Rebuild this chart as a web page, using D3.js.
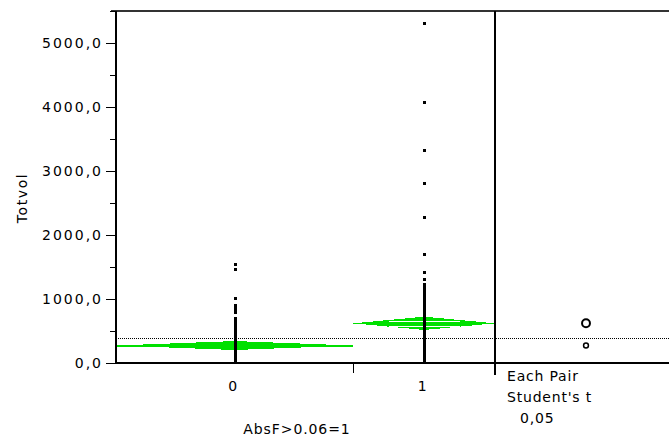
<!DOCTYPE html>
<html>
<head>
<meta charset="utf-8">
<script src="https://cdn.jsdelivr.net/npm/d3@7"></script>
<style>
  html, body { margin: 0; padding: 0; background: #ffffff; }
  svg { display: block; }
  text { font-family: "DejaVu Sans", Verdana, sans-serif; fill: #000; }
</style>
</head>
<body>
<svg id="chart" width="669" height="436"></svg>
<script>
// Totvol by group (AbsF>0.06=1): one-way analysis with means diamonds
const groups = ["0", "1"];
const groupN = [57, 34];                 // group sizes set the column widths
const groupMeans = [273, 620];
const groupCI = [70, 104];               // 95% half-width of each mean
const circleRadius = [38, 62];           // comparison circle radii (value units)
const grandMean = 386;

const values0 = [5, 25, 50, 75, 100, 130, 160, 190, 220, 250, 280, 310, 340, 370,
  400, 430, 460, 490, 520, 550, 580, 610, 640, 670, 700, 785, 820, 855, 895,
  1010, 1460, 1540];
const values1 = [5, 35, 65, 95, 125, 155, 185, 215, 245, 275, 305, 335, 365, 395,
  425, 455, 485, 515, 545, 575, 605, 635, 665, 695, 725, 755, 785, 815, 845,
  875, 905, 935, 965, 995, 1025, 1055, 1085, 1115, 1145, 1175, 1205, 1230,
  1300, 1410, 1700, 2280, 2800, 3320, 4070, 5310];
const groupValues = [values0, values1];

const yMajorTicks = [0, 1000, 2000, 3000, 4000, 5000];
const yMinorTicks = [500, 1500, 2500, 3500, 4500, 5500];
const yTitle = "Totvol";
const xTitle = "AbsF>0.06=1";
const compareLabels = ["Each Pair", "Student's t", "0,05"];

const svg = d3.select("#chart");
const W = 669;
const plot = { left: 116, right: 495, top: 11, bottom: 363 };
const green = "#00e000";

const y = d3.scaleLinear().domain([0, 5500]).range([plot.bottom, plot.top]);

// column edges proportional to group size
const total = d3.sum(groupN);
const xw = d3.scaleLinear().domain([0, total]).range([plot.left, plot.right]);
const cum = [0, ...d3.cumsum(groupN)];
const cols = groups.map((g, i) => ({
  g, i, x0: xw(cum[i]), x1: xw(cum[i + 1]), xc: xw((cum[i] + cum[i + 1]) / 2)
}));

const fmt = d => d3.format(".1f")(d).replace(".", ",");

// grand mean dotted reference line
svg.append("line")
  .attr("x1", plot.left).attr("x2", W)
  .attr("y1", Math.round(y(grandMean)) + 0.5).attr("y2", Math.round(y(grandMean)) + 0.5)
  .attr("stroke", "#000").attr("stroke-width", 1).attr("stroke-dasharray", "1,1");

// means diamonds
const dg = svg.append("g").attr("shape-rendering", "crispEdges");
cols.forEach(c => {
  const m = y(groupMeans[c.i]);
  const top = y(groupMeans[c.i] + groupCI[c.i]);
  const bot = y(groupMeans[c.i] - groupCI[c.i]);
  dg.append("polygon")
    .attr("points", [[c.x0, m], [c.xc, top], [c.x1, m], [c.xc, bot]].join(" "))
    .attr("fill", green);
  dg.append("line")
    .attr("x1", c.x0).attr("x2", c.x1)
    .attr("y1", Math.round(m) + 0.5).attr("y2", Math.round(m) + 0.5)
    .attr("stroke", green).attr("stroke-width", 1);
  // overlap marks, only where the diamond is tall enough to show them
  const halfPx = (bot - top) / 2;
  if (halfPx >= 6) {
    const off = halfPx * 0.4;
    const hw = (c.x1 - c.x0) * 0.25;
    [m - off, m + off].forEach(yy => {
      dg.append("line")
        .attr("x1", c.xc - hw).attr("x2", c.xc + hw)
        .attr("y1", Math.round(yy) + 0.5).attr("y2", Math.round(yy) + 0.5)
        .attr("stroke", "#ffffff").attr("stroke-width", 1);
    });
  }
});

// data points
const pg = svg.append("g").attr("shape-rendering", "crispEdges");
cols.forEach(c => {
  pg.selectAll(null).data(groupValues[c.i]).enter().append("rect")
    .attr("x", Math.round(c.xc) - 1.5).attr("y", d => y(d) - 1.5)
    .attr("width", 3).attr("height", 3).attr("fill", "#000");
});

// axes and frame
const fg = svg.append("g").attr("shape-rendering", "crispEdges")
  .attr("stroke", "#000").attr("stroke-width", 2);
fg.append("line").attr("x1", plot.left - 5).attr("x2", W).attr("y1", plot.top).attr("y2", plot.top)
  .attr("stroke", "#333");
fg.append("line").attr("x1", plot.left).attr("x2", plot.left).attr("y1", plot.top).attr("y2", plot.bottom + 1);
fg.append("line").attr("x1", plot.left).attr("x2", W).attr("y1", plot.bottom).attr("y2", plot.bottom);
fg.append("line").attr("x1", plot.right).attr("x2", plot.right).attr("y1", plot.top).attr("y2", plot.bottom + 12);
// group boundary ticks
cols.slice(0, -1).forEach(c => {
  fg.append("line").attr("x1", c.x1).attr("x2", c.x1).attr("y1", plot.bottom).attr("y2", plot.bottom + 10)
    .attr("stroke-width", 1.5);
});

// y axis ticks
const yAxis = d3.axisLeft(y).tickValues(yMajorTicks).tickFormat(fmt).tickSize(10).tickPadding(3);
const ya = svg.append("g").attr("transform", `translate(${plot.left},0)`).call(yAxis);
ya.select(".domain").remove();
ya.selectAll(".tick line").attr("stroke", "#000").attr("stroke-width", 1.5).attr("shape-rendering", "crispEdges");
ya.selectAll(".tick text").attr("font-size", 14).attr("font-family", "DejaVu Sans")
  .attr("letter-spacing", "2px").attr("fill", "#000");
const yMinor = d3.axisLeft(y).tickValues(yMinorTicks).tickFormat("").tickSize(6);
const ym = svg.append("g").attr("transform", `translate(${plot.left},0)`).call(yMinor);
ym.select(".domain").remove();
ym.selectAll(".tick line").attr("stroke", "#000").attr("stroke-width", 1.5).attr("shape-rendering", "crispEdges");

// x category labels
cols.forEach(c => {
  svg.append("text").attr("x", c.xc - 2).attr("y", 391)
    .attr("text-anchor", "middle").attr("font-size", 14).text(c.g);
});

// titles
svg.append("text").attr("x", 297).attr("y", 434).attr("text-anchor", "middle")
  .attr("font-size", 14).attr("letter-spacing", "0.9px").text(xTitle);
svg.append("text").attr("transform", "translate(27,198) rotate(-90)")
  .attr("text-anchor", "middle").attr("font-size", 14).attr("letter-spacing", "1.6px").text(yTitle);

// comparison circles
const cx = plot.right + 91;
cols.forEach(c => {
  const r = y(0) - y(circleRadius[c.i]);
  svg.append("circle").attr("cx", cx).attr("cy", y(groupMeans[c.i])).attr("r", r)
    .attr("fill", "none").attr("stroke", "#000").attr("stroke-width", r > 3 ? 2 : 1.5);
});

// comparison method labels
const lx = [507, 507, 520];
const ly = [381, 402, 423];
compareLabels.forEach((t, i) => {
  svg.append("text").attr("x", lx[i]).attr("y", ly[i])
    .attr("font-size", 14).attr("letter-spacing", "0.8px").text(t);
});
</script>
</body>
</html>
